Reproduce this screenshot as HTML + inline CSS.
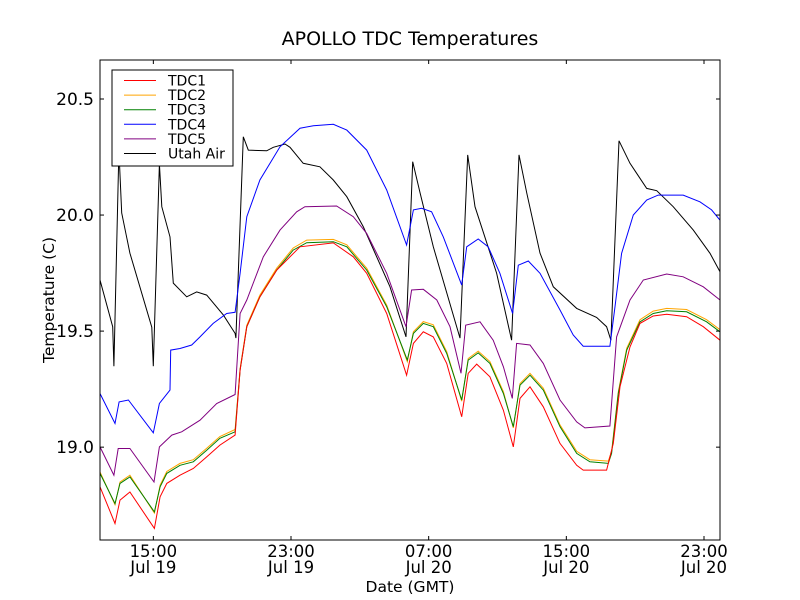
<!DOCTYPE html>
<html><head><meta charset="utf-8">
<style>
html,body{margin:0;padding:0;background:#fff;}
svg{display:block;font-family:"DejaVu Sans","Liberation Sans",sans-serif;}
</style></head>
<body>
<svg id="chart" width="800" height="600" xmlns="http://www.w3.org/2000/svg">
<rect x="0" y="0" width="800" height="600" fill="#fff"/>
<text x="410" y="45" font-size="19" text-anchor="middle">APOLLO TDC Temperatures</text>
<g id="series"></g>
<rect x="100" y="60" width="620" height="480" fill="none" stroke="#000" stroke-width="1"/>
<g id="ticks"></g>
<text x="410" y="592" font-size="15.5" text-anchor="middle">Date (GMT)</text>
<text transform="translate(54,300) rotate(-90)" font-size="15.5" text-anchor="middle">Temperature (C)</text>
<g id="legend"></g>
</svg>
<script>
// hours since 12:00 Jul 19
const airT=[-0.1,0.64,0.71,1.0,1.16,1.64,2.91,3.0,3.35,3.49,3.97,4.16,4.94,5.52,6.10,7.07,7.75,7.80,8.23,8.52,9.59,9.97,10.65,10.94,11.71,12.68,13.46,14.24,15.20,16.75,17.68,18.07,18.50,19.27,20.82,21.27,21.69,22.95,23.82,24.25,24.70,25.47,26.24,27.60,28.76,29.34,29.59,30.06,30.70,31.67,32.25,33.21,34.38,35.35,35.93];
const airV=[19.720,19.519,19.349,20.28,20.009,19.836,19.517,19.349,20.22,20.036,19.906,19.707,19.648,19.669,19.655,19.569,19.490,19.470,20.337,20.280,20.277,20.292,20.306,20.292,20.223,20.208,20.151,20.079,19.950,19.691,19.475,20.230,20.095,19.863,19.470,20.259,20.036,19.750,19.461,20.259,20.094,19.836,19.691,19.598,19.559,19.519,19.461,20.320,20.223,20.115,20.105,20.036,19.935,19.835,19.756];
const tdc4T=[-0.1,0.77,1.01,1.55,3.0,3.35,3.97,4.01,4.55,5.23,5.71,6.48,7.26,7.75,8.04,8.43,9.19,10.36,11.52,12.30,13.46,14.24,15.40,16.56,17.72,18.11,18.59,19.17,19.85,20.92,21.21,21.88,22.46,23.14,23.88,24.21,24.79,25.47,26.63,27.40,27.98,29.53,29.83,30.21,30.89,31.67,32.34,33.79,34.76,35.44,35.93];
const tdc4V=[19.231,19.102,19.195,19.203,19.062,19.188,19.246,19.418,19.425,19.440,19.475,19.533,19.576,19.581,19.749,19.993,20.151,20.294,20.374,20.385,20.391,20.366,20.280,20.108,19.871,20.022,20.029,20.014,19.906,19.698,19.863,19.897,19.863,19.749,19.576,19.784,19.802,19.749,19.591,19.483,19.435,19.435,19.605,19.835,20.0,20.065,20.086,20.086,20.057,20.022,19.978];
const tdc5T=[-0.1,0.71,0.96,1.64,3.04,3.35,4.07,4.65,5.71,6.68,7.75,8.04,8.43,9.39,10.36,11.33,11.81,13.65,14.62,15.40,16.56,17.68,18.01,18.69,19.47,20.24,20.88,21.15,21.98,22.75,23.34,23.86,24.11,24.89,25.66,26.63,27.60,28.08,29.53,29.92,30.70,31.47,32.83,33.79,34.96,35.93];
const tdc5V=[19.001,18.879,18.994,18.994,18.850,19.001,19.052,19.066,19.116,19.188,19.227,19.576,19.634,19.820,19.935,20.014,20.036,20.039,19.993,19.921,19.749,19.519,19.677,19.680,19.634,19.519,19.318,19.526,19.540,19.461,19.346,19.210,19.447,19.440,19.361,19.203,19.109,19.083,19.091,19.475,19.634,19.720,19.746,19.734,19.691,19.634];
const tdc3T=[-0.1,0.77,1.06,1.64,3.06,3.39,3.78,4.55,5.32,6.10,6.87,7.75,8.04,8.43,9.19,10.17,11.13,11.91,13.46,14.24,15.40,16.56,17.76,18.11,18.69,19.27,20.05,20.92,21.30,21.88,22.56,23.34,23.92,24.31,24.89,25.66,26.63,27.60,28.37,29.44,29.63,30.02,30.51,31.28,32.05,32.83,33.99,35.15,35.93];
const tdc3V=[18.887,18.757,18.844,18.872,18.721,18.829,18.887,18.922,18.937,18.987,19.038,19.066,19.332,19.519,19.648,19.763,19.849,19.881,19.885,19.863,19.763,19.605,19.375,19.490,19.533,19.519,19.404,19.203,19.375,19.406,19.361,19.231,19.088,19.267,19.310,19.246,19.088,18.973,18.937,18.930,18.973,19.231,19.418,19.540,19.576,19.588,19.583,19.540,19.497];
const tdc2T=tdc3T;
const tdc2V=[18.893,18.752,18.850,18.879,18.716,18.836,18.895,18.930,18.946,18.995,19.046,19.076,19.338,19.525,19.655,19.771,19.858,19.892,19.895,19.872,19.771,19.612,19.368,19.497,19.541,19.527,19.412,19.198,19.382,19.414,19.369,19.239,19.083,19.274,19.318,19.254,19.096,18.982,18.946,18.940,18.981,19.238,19.426,19.549,19.586,19.598,19.593,19.549,19.506];
const tdc1T=[-0.1,0.77,1.06,1.64,3.06,3.39,3.78,4.55,5.32,6.10,6.87,7.75,8.04,8.43,9.19,10.17,11.52,13.46,14.62,15.40,16.56,17.72,18.11,18.69,19.27,20.05,20.92,21.30,21.79,22.56,23.34,23.92,24.31,24.89,25.66,26.63,27.60,27.98,29.34,29.73,30.12,30.70,31.28,32.05,32.83,33.99,34.96,35.93];
const tdc1V=[18.829,18.671,18.772,18.807,18.650,18.786,18.844,18.879,18.908,18.958,19.009,19.052,19.332,19.519,19.648,19.763,19.863,19.880,19.820,19.749,19.576,19.310,19.447,19.497,19.475,19.361,19.131,19.318,19.358,19.303,19.159,19.001,19.210,19.260,19.174,19.016,18.922,18.901,18.901,19.016,19.260,19.432,19.533,19.565,19.573,19.562,19.519,19.461];
const seriesNames=["TDC1","TDC2","TDC3","TDC4","TDC5","Utah Air"];
const seriesColors=["#ff0000","#ffa500","#008000","#0000ff","#800080","#000000"];
const yTicks=[19.0,19.5,20.0,20.5];
const yTickLabels=["19.0","19.5","20.0","20.5"];
const xTicks=[3,11,19,27,35];
const xTickLabels1=["15:00","23:00","07:00","15:00","23:00"];
const xTickLabels2=["Jul 19","Jul 19","Jul 20","Jul 20","Jul 20"];

const X0=100,X1=720,Y0=60,Y1=540;
const H0=-0.1,H1=35.93,V0=18.600,V1=20.668;
function xs(h){return X0+(h-H0)/(H1-H0)*(X1-X0);}
function ys(v){return Y1-(v-V0)/(V1-V0)*(Y1-Y0);}
const NS="http://www.w3.org/2000/svg";
const sg=document.getElementById('series');
const all=[[tdc1T,tdc1V],[tdc2T,tdc2V],[tdc3T,tdc3V],[tdc4T,tdc4V],[tdc5T,tdc5V],[airT,airV]];
const order=[5,3,4,1,2,0];
order.forEach(i=>{
  const [t,v]=all[i];
  const pts=t.map((h,k)=>xs(h).toFixed(1)+','+ys(v[k]).toFixed(1)).join(' ');
  const pl=document.createElementNS(NS,'polyline');
  pl.setAttribute('points',pts);
  pl.setAttribute('fill','none');
  pl.setAttribute('stroke',seriesColors[i]);
  pl.setAttribute('stroke-width','1');
  
  
  sg.appendChild(pl);
});
const tg=document.getElementById('ticks');
function add(tag,attrs,txt){const e=document.createElementNS(NS,tag);for(const k in attrs)e.setAttribute(k,attrs[k]);if(txt!==undefined)e.textContent=txt;tg.appendChild(e);return e;}
yTicks.forEach((v,i)=>{
  const y=ys(v);
  const a=add('line',{x1:X0,x2:X0+4,y1:y,y2:y,stroke:'#000'});
  
  
  const b=add('line',{x1:X1-4,x2:X1,y1:y,y2:y,stroke:'#000'});
  
  
  const t=add('text',{x:X0-6,y:y+6,'font-size':17,'text-anchor':'end'},yTickLabels[i]);
  
  
});
xTicks.forEach((h,i)=>{
  const x=xs(h);
  const a=add('line',{x1:x,x2:x,y1:Y1,y2:Y1-4,stroke:'#000'});
  
  
  const b=add('line',{x1:x,x2:x,y1:Y0,y2:Y0+4,stroke:'#000'});
  
  
  const t1=add('text',{x:x,y:557,'font-size':16.5,'text-anchor':'middle'},xTickLabels1[i]);
  
  
  const t2=add('text',{x:x,y:573,'font-size':16.5,'text-anchor':'middle'},xTickLabels2[i]);
  
  
});
const lg=document.getElementById('legend');
const box=document.createElementNS(NS,'rect');
box.setAttribute('x',112);box.setAttribute('y',70);box.setAttribute('width',121);box.setAttribute('height',96);
box.setAttribute('fill','#fff');box.setAttribute('stroke','#000');


lg.appendChild(box);
seriesNames.forEach((n,i)=>{
  const y=80.5+i*14.6;
  const l=document.createElementNS(NS,'line');
  l.setAttribute('x1',124);l.setAttribute('x2',156);l.setAttribute('y1',y);l.setAttribute('y2',y);
  l.setAttribute('stroke',seriesColors[i]);
  
  
  lg.appendChild(l);
  const t=document.createElementNS(NS,'text');
  t.setAttribute('x',168);t.setAttribute('y',y+5);t.setAttribute('font-size',14);
  t.textContent=n;
  
  
  lg.appendChild(t);
});
</script>
</body></html>
